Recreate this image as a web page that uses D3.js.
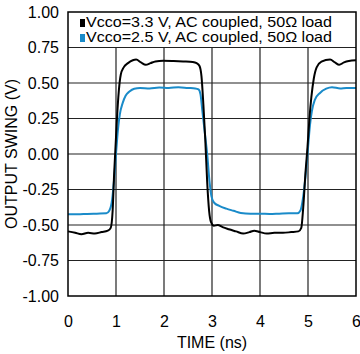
<!DOCTYPE html>
<html>
<head>
<meta charset="utf-8">
<script src="https://cdn.jsdelivr.net/npm/d3@7"></script>
<style>
  body { margin: 0; background: #fff; }
  text { font-family: "Liberation Sans", Arial, sans-serif; }
</style>
</head>
<body>
<div id="chart"></div>
<script>
// x ticks (ns) and y ticks (V)
const xTicks = [0, 1, 2, 3, 4, 5, 6];
const yTicks = [-1, -0.75, -0.5, -0.25, 0, 0.25, 0.5, 0.75, 1];

// series: Vcco = 3.3 V (black)
const time33 = [0, 0.15, 0.28, 0.42, 0.56, 0.7, 0.83, 0.89, 0.93, 0.96, 0.99, 1.02, 1.06, 1.1, 1.16, 1.25, 1.35, 1.42, 1.52, 1.62, 1.72, 1.82, 1.98, 2.2, 2.4, 2.6, 2.68, 2.74, 2.78, 2.82, 2.86, 2.9, 2.94, 2.98, 3.04, 3.12, 3.22, 3.35, 3.5, 3.65, 3.78, 3.88, 4.0, 4.14, 4.3, 4.48, 4.65, 4.8, 4.86, 4.9, 4.95, 4.99, 5.03, 5.07, 5.12, 5.18, 5.28, 5.46, 5.56, 5.65, 5.75, 5.85, 6.0];
const volt33 = [-0.545, -0.555, -0.565, -0.555, -0.56, -0.55, -0.54, -0.52, -0.4, -0.15, 0.05, 0.25, 0.45, 0.56, 0.61, 0.64, 0.66, 0.665, 0.645, 0.628, 0.64, 0.652, 0.657, 0.655, 0.652, 0.648, 0.64, 0.62, 0.55, 0.35, 0.1, -0.2, -0.4, -0.48, -0.505, -0.5, -0.515, -0.53, -0.545, -0.56, -0.55, -0.54, -0.55, -0.56, -0.555, -0.555, -0.55, -0.545, -0.52, -0.38, -0.12, 0.05, 0.25, 0.4, 0.53, 0.61, 0.65, 0.665, 0.645, 0.628, 0.645, 0.655, 0.66];

// series: Vcco = 2.5 V (blue)
const time25 = [0, 0.2, 0.4, 0.6, 0.8, 0.86, 0.92, 0.96, 1.0, 1.04, 1.08, 1.14, 1.2, 1.28, 1.38, 1.5, 1.7, 1.9, 2.1, 2.3, 2.5, 2.65, 2.72, 2.76, 2.8, 2.85, 2.9, 2.95, 2.99, 3.05, 3.15, 3.3, 3.45, 3.6, 3.8, 4.0, 4.2, 4.4, 4.6, 4.78, 4.84, 4.9, 4.95, 4.99, 5.04, 5.08, 5.14, 5.25, 5.38, 5.5, 5.67, 5.8, 6.0];
const volt25 = [-0.425, -0.425, -0.422, -0.42, -0.418, -0.4, -0.32, -0.18, 0.0, 0.17, 0.28, 0.36, 0.41, 0.44, 0.46, 0.465, 0.462, 0.468, 0.465, 0.47, 0.465, 0.462, 0.455, 0.42, 0.3, 0.15, 0.0, -0.2, -0.3, -0.345, -0.365, -0.385, -0.4, -0.415, -0.42, -0.42, -0.422, -0.42, -0.418, -0.418, -0.4, -0.3, -0.15, 0.0, 0.2, 0.3, 0.38, 0.43, 0.46, 0.47, 0.462, 0.465, 0.465];

const legendLabels = ["Vcco=3.3 V, AC coupled, 50\u03A9 load", "Vcco=2.5 V, AC coupled, 50\u03A9 load"];
const colors = ["#000000", "#1a8bc9"];

const W = 360, H = 354;
const margin = { top: 12, right: 4, bottom: 58, left: 68 };
const width = W - margin.left - margin.right;
const height = H - margin.top - margin.bottom;

const svg = d3.select("#chart")
  .append("svg")
  .attr("width", W)
  .attr("height", H)
  .append("g")
  .attr("transform", `translate(${margin.left},${margin.top})`);

const x = d3.scaleLinear().domain([0, 6]).range([0, width]);
const y = d3.scaleLinear().domain([-1, 1]).range([height, 0]);

// grid - vertical lines stop at 0.75 because legend sits above
svg.append("g")
  .selectAll("line.vg")
  .data(xTicks.slice(1, -1))
  .join("line")
  .attr("x1", d => x(d)).attr("x2", d => x(d))
  .attr("y1", y(0.75)).attr("y2", y(-1))
  .attr("stroke", "#222").attr("stroke-width", 1.2);

svg.append("g")
  .selectAll("line.hg")
  .data(yTicks.filter(d => d > -1 && d < 1))
  .join("line")
  .attr("x1", 0).attr("x2", width)
  .attr("y1", d => y(d)).attr("y2", d => y(d))
  .attr("stroke", "#222").attr("stroke-width", 1.2);

// axis labels via d3 axes, domain and ticks hidden
const yAxis = svg.append("g")
  .call(d3.axisLeft(y).tickValues(yTicks).tickFormat(d3.format(".2f")).tickSize(0).tickPadding(9));
yAxis.select(".domain").remove();
yAxis.selectAll("text").attr("font-size", 16).attr("fill", "#000")
  .style("font-family", "Liberation Sans, Arial, sans-serif")
  .text(d => d3.format(".2f")(d).replace("\u2212", "-"));

const xAxis = svg.append("g")
  .attr("transform", `translate(0,${height})`)
  .call(d3.axisBottom(x).tickValues(xTicks).tickFormat(d3.format("d")).tickSize(0).tickPadding(20));
xAxis.select(".domain").remove();
xAxis.selectAll("text").attr("font-size", 16).attr("fill", "#000")
  .style("font-family", "Liberation Sans, Arial, sans-serif");

// lines
const line = d3.line()
  .x(d => x(d[0]))
  .y(d => y(d[1]))
  .curve(d3.curveMonotoneX);

const series = [
  d3.zip(time33, volt33),
  d3.zip(time25, volt25)
];

[1, 0].forEach(i => {
  svg.append("path")
    .datum(series[i])
    .attr("d", line)
    .attr("fill", "none")
    .attr("stroke", colors[i])
    .attr("stroke-width", 2)
    .attr("stroke-linejoin", "round");
});

// frame
svg.append("rect")
  .attr("width", width).attr("height", height)
  .attr("fill", "none").attr("stroke", "#000").attr("stroke-width", 1.5);

// legend (tight rows like the original, text stretched to its width)
const legend = svg.append("g").attr("transform", "translate(12,0)");
legendLabels.forEach((lab, i) => {
  const g = legend.append("g").attr("transform", `translate(0,${15 + i * 15})`);
  g.append("rect").attr("x", 0).attr("y", -8).attr("width", 5).attr("height", 8).attr("fill", colors[i]);
  g.append("text").attr("x", 6).attr("y", 0).attr("font-size", 14.5)
    .attr("textLength", 246).attr("lengthAdjust", "spacingAndGlyphs")
    .attr("fill", "#000").text(lab);
});

// axis titles
svg.append("text")
  .attr("x", width / 2).attr("y", height + 52)
  .attr("text-anchor", "middle").attr("font-size", 16)
  .text("TIME (ns)");

svg.append("text")
  .attr("transform", "rotate(-90)")
  .attr("x", -height / 2).attr("y", -margin.left + 17)
  .attr("text-anchor", "middle").attr("font-size", 16)
  .text("OUTPUT SWING (V)");
</script>
</body>
</html>
